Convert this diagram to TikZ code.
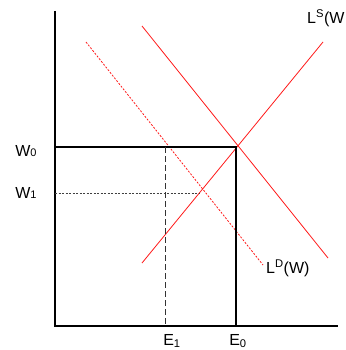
\documentclass[tikz,border=0pt]{standalone}
\usepackage{fontspec}
\setmainfont{Liberation Sans}
\usetikzlibrary{calc, positioning}
\tikzset{
  axis/.style    ={line width=2pt, black},
  level/.style   ={line width=1.1pt, black},
  guide/.style   ={line width=0.5pt, black!75, dash pattern=on 2pt off 1.5pt},
  guidev/.style  ={line width=0.6pt, black!80, dash pattern=on 6pt off 3pt},
  curve/.style   ={line width=0.8pt, red!90},
  shifted/.style ={line width=0.8pt, red!90, dash pattern=on 2pt off 1.5pt},
  lbl/.style     ={font=\fontsize{16}{19}\selectfont, inner sep=0pt},
}
\newcommand{\smalldigit}[1]{{\fontsize{11}{13}\selectfont #1}}
\begin{document}
\begin{tikzpicture}[x=1pt, y=-1pt]
  \useasboundingbox (0,0) rectangle (345,350);
  % axes
  \coordinate (top)    at (55,11);
  \coordinate (orig)   at (55,326);
  \coordinate (right)  at (338,326);
  \draw[axis] (top) -- (55,327) (54,326) -- (right);
  % curves
  \coordinate (ld1) at (142,26);
  \coordinate (ld2) at (328,258);
  \coordinate (ls1) at (142,263);
  \coordinate (ls2) at (323,42);
  \coordinate (dd1) at (86,42);
  \coordinate (dd2) at (263,265);
  \draw[curve] (ld1) -- (ld2);
  \draw[curve] (ls1) -- (ls2);
  \draw[shifted] (dd1) -- (dd2);
  % equilibrium levels
  \coordinate (eq)  at (236,147);
  \coordinate (w0)  at (55,147);
  \coordinate (e0)  at (236,326);
  \coordinate (w1)  at (55,193);
  \coordinate (eq1) at (200,193);
  \coordinate (e1t) at (165,147);
  \coordinate (e1)  at (165,326);
  \draw[level] (w0) -- (eq) -- (e0);
  \draw[guide] (w1) -- (eq1);
  \draw[guidev] (e1t) -- (e1);
  % labels
  \node[lbl] (lw0) at (26,151) {W\smalldigit{0}};
  \node[lbl] (lw1) at (26,193) {W\smalldigit{1}};
  \node[lbl] (le1) at (172,341) {E\textsubscript{1}};
  \node[lbl] (le0) at (238,341) {E\textsubscript{0}};
  \node[lbl, anchor=west] (lld) at (266,268) {L\textsuperscript{D}(W)};
  \node[lbl, anchor=west] (lls) at (307,18) {L\textsuperscript{S}(W};
\end{tikzpicture}
\end{document}
